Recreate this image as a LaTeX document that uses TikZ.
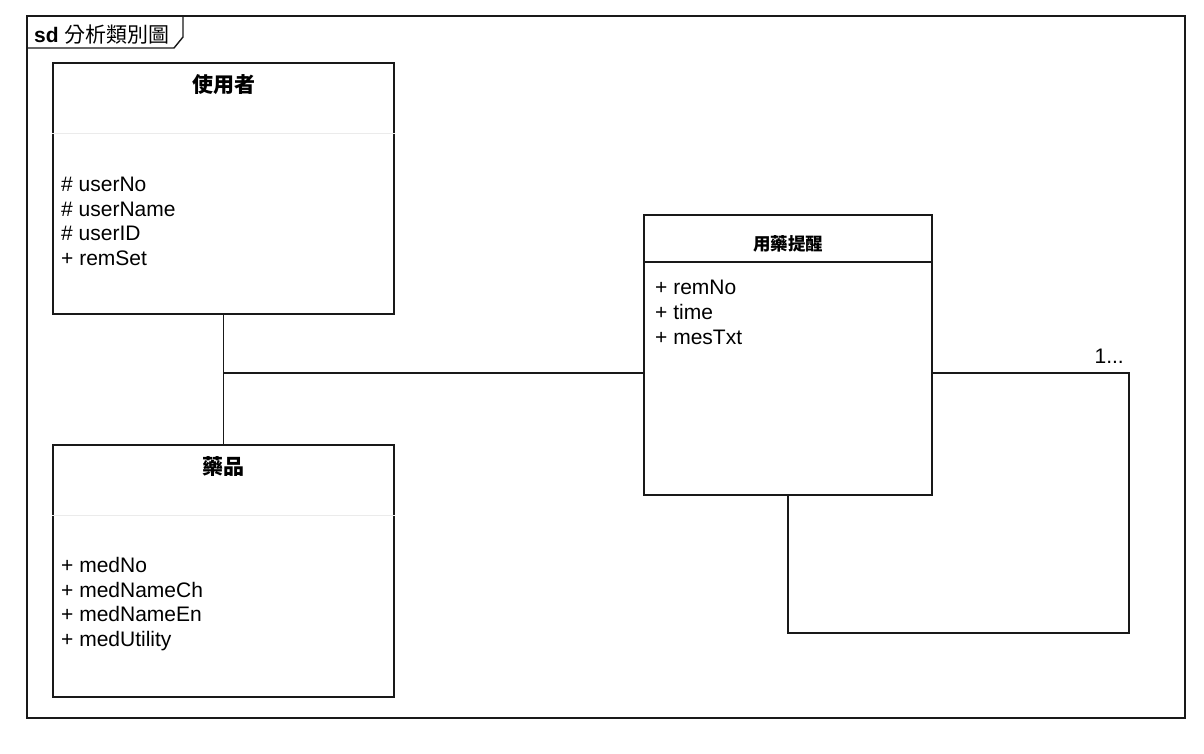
\documentclass[tikz,border=0pt]{standalone}
\usepackage{fontspec}
\setmainfont{Liberation Sans}
\newfontfamily\cjk{Noto Sans CJK TC}
\begin{document}
\begin{tikzpicture}[x=1pt,y=-1pt,
  box/.style={draw=black!90, line width=1.4pt, fill=white, inner sep=0pt},
  conn/.style={draw=black!90, line width=1.2pt},
  attr/.style={anchor=base west, inner sep=0pt, font=\fontsize{21}{24}\selectfont},
  ttl/.style={inner sep=0pt, font=\fontsize{21}{24}\selectfont\cjk\bfseries},
  sep/.style={draw=black!8, line width=1pt}]
\useasboundingbox (0,0) rectangle (1204,753);
% frame
\node[draw=black!90, line width=2pt, minimum width=1158pt, minimum height=702pt, inner sep=0pt] (frame) at (606,367) {};
\coordinate (t1) at (27,48);
\coordinate (t2) at (174,48);
\coordinate (t3) at (183,37);
\coordinate (t4) at (183,16);
\draw[draw=black!90, line width=1.4pt] (t1) -- (t2) -- (t3) -- (t4);
\node[anchor=west, inner sep=0pt, font=\fontsize{21}{24}\selectfont] (flabel) at (34,34.5) {\textbf{sd} {\cjk 分析類別圖}};
% boxes
\node[box, minimum width=341pt, minimum height=251pt] (user) at (223.5,188.5) {};
\node[box, minimum width=341pt, minimum height=252pt] (med) at (223.5,571) {};
\node[box, minimum width=288pt, minimum height=280pt] (rem) at (788,355) {};
% user
\node[ttl] (userT) at (223.5,85) {使用者};
\draw[sep] (user.west |- 0,133) -- (user.east |- 0,133);
\node[attr] (u1) at (61,191.5) {\# userNo};
\node[attr] (u2) at (61,216) {\# userName};
\node[attr] (u3) at (61,240.5) {\# userID};
\node[attr] (u4) at (61,265) {+ remSet};
% med
\node[ttl] (medT) at (223.5,466) {藥品};
\draw[sep] (med.west |- 0,515) -- (med.east |- 0,515);
\node[attr] (m1) at (61,572.5) {+ medNo};
\node[attr] (m2) at (61,597) {+ medNameCh};
\node[attr] (m3) at (61,621.5) {+ medNameEn};
\node[attr] (m4) at (61,646) {+ medUtility};
% rem
\node[ttl, font=\fontsize{17.5}{20}\selectfont\cjk\bfseries] (remT) at (788,243.5) {用藥提醒};
\draw[draw=black!90, line width=1.2pt] (rem.west |- 0,262) -- (rem.east |- 0,262);
\node[attr] (r1) at (655,294) {+ remNo};
\node[attr] (r2) at (655,319) {+ time};
\node[attr] (r3) at (655,344) {+ mesTxt};
% connectors
\coordinate (j) at (223,373);
\coordinate (lr) at (1129,633);
\draw[conn] (user.south) -- (med.north);
\draw[conn] (j) -- (j -| rem.west);
\draw[conn] (rem.east |- j) -| (lr) -| (rem.south);
\node[anchor=base east, inner sep=0pt, font=\fontsize{21}{24}\selectfont] (mult) at (1124,363) {1...};
\end{tikzpicture}
\end{document}
